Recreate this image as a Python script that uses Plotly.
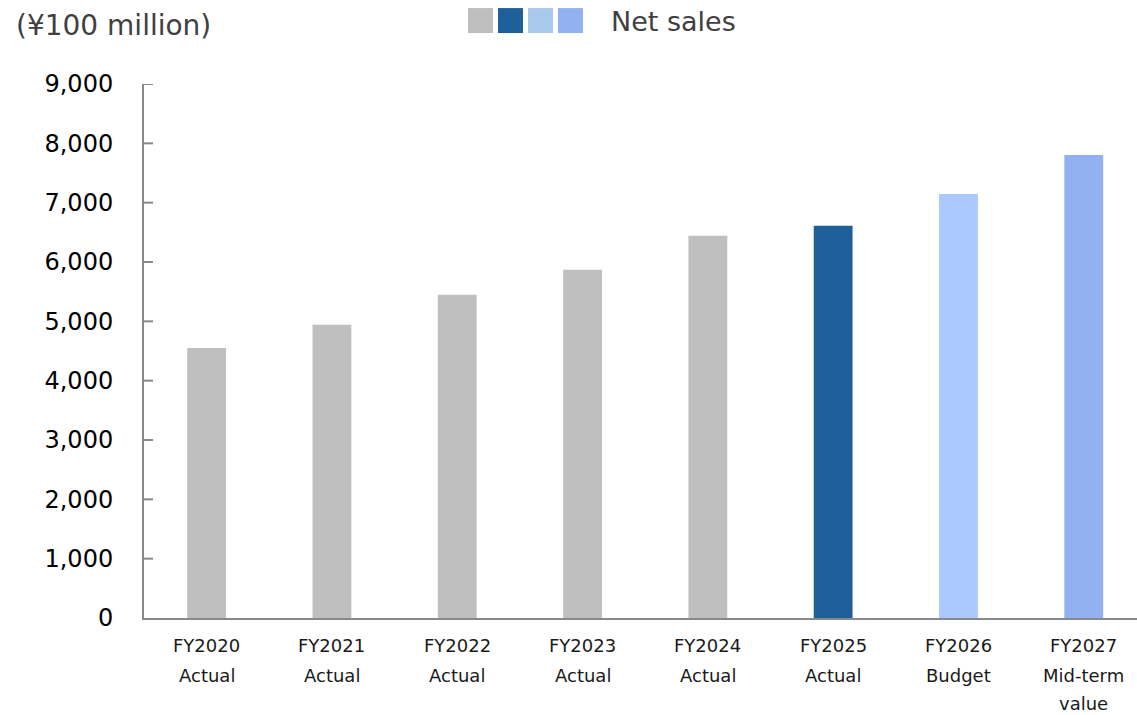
import plotly.graph_objects as go

# ---- data ----
years = ["FY2020", "FY2021", "FY2022", "FY2023", "FY2024", "FY2025", "FY2026", "FY2027"]
kinds = ["Actual", "Actual", "Actual", "Actual", "Actual", "Actual", "Budget", "Mid-term\nvalue"]
net_sales = [4550, 4942, 5447, 5868, 6441, 6609, 7148, 7804]
bar_colors = ["#BFBFBF", "#BFBFBF", "#BFBFBF", "#BFBFBF", "#BFBFBF", "#1F5F9A", "#ABC8FF", "#91B1F3"]
legend_colors = ["#BFBFBF", "#1F5F9A", "#A7C9EC", "#91B1F3"]
legend_label = "Net sales"
unit_label = "(¥100 million)"
y_ticks = [0, 1000, 2000, 3000, 4000, 5000, 6000, 7000, 8000, 9000]

# ---- layout geometry ----
W, H = 1137, 715
L, R, T, B = 144, 0, 84, 96.5
PW, PH = W - L - R, H - T - B
FONT = "DejaVu Sans"
AXIS_COLOR = "#898989"

def px_x(p):
    return (p - L) / PW

def px_y(p):
    return (H - B - p) / PH

xpos = list(range(len(years)))

fig = go.Figure()
fig.add_trace(go.Bar(
    x=xpos, y=net_sales, width=0.31,
    marker=dict(color=bar_colors, line=dict(width=0)),
    showlegend=False, hoverinfo="skip",
))

line_shifts = [-27, -57.5, -85]
annotations = []
for i, (yr, kd) in enumerate(zip(years, kinds)):
    lines = [yr] + kd.split("\n")
    for j, ln in enumerate(lines):
        annotations.append(dict(
            x=i, xref="x", y=0, yref="paper", text=ln, showarrow=False,
            xanchor="center", yanchor="middle", yshift=line_shifts[j],
            font=dict(family=FONT, size=18, color="#1a1a1a"),
        ))

annotations.append(dict(
    x=px_x(14), xref="paper", y=px_y(25), yref="paper", text=unit_label,
    showarrow=False, xanchor="left", yanchor="middle",
    font=dict(family=FONT, size=28, color="#404040"),
))
annotations.append(dict(
    x=px_x(609), xref="paper", y=px_y(21), yref="paper", text=legend_label,
    showarrow=False, xanchor="left", yanchor="middle",
    font=dict(family=FONT, size=27, color="#404040"),
))

shapes = []
lx = [468, 498, 528, 558]
for x0, c in zip(lx, legend_colors):
    shapes.append(dict(
        type="rect", xref="paper", yref="paper",
        x0=px_x(x0), x1=px_x(x0 + 25), y0=px_y(33), y1=px_y(8),
        fillcolor=c, line=dict(width=0),
    ))
# inward tick marks on the value axis, one per tick value
for v in y_ticks[1:]:
    shapes.append(dict(
        type="line", xref="paper", yref="y",
        x0=0, x1=9 / PW, y0=v, y1=v,
        line=dict(color=AXIS_COLOR, width=2),
    ))

fig.update_layout(
    width=W, height=H,
    margin=dict(l=L, r=R, t=T, b=B, pad=0),
    paper_bgcolor="white", plot_bgcolor="white",
    font=dict(family=FONT, color="#000000"),
    annotations=annotations, shapes=shapes,
    showlegend=False,
    xaxis=dict(
        range=[-0.5, -0.5 + PW / 125.3], showticklabels=False, ticks="",
        showgrid=False, zeroline=False, showline=True,
        linecolor=AXIS_COLOR, linewidth=2, fixedrange=True,
    ),
    yaxis=dict(
        range=[0, 9000], tickvals=y_ticks, tickformat=",",
        ticks="", showgrid=False, zeroline=False, showline=True,
        linecolor=AXIS_COLOR, linewidth=2, ticklabelstandoff=24,
        tickfont=dict(family=FONT, size=24, color="#000000"),
        fixedrange=True,
    ),
)

fig.write_html("out.html", include_plotlyjs=True, config={"displayModeBar": False})
